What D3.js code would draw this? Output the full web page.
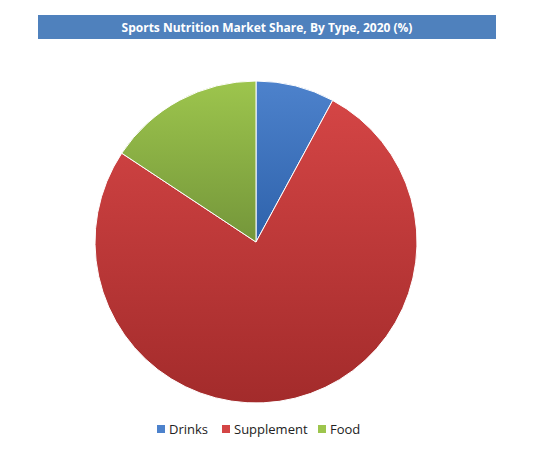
<!DOCTYPE html>
<html><head><meta charset="utf-8">
<script src="https://cdn.jsdelivr.net/npm/d3@7"></script>
<style>body{margin:0;background:#fff}</style></head>
<body><svg id="c" width="544" height="472"></svg>
<script>
const categories = ["Drinks","Supplement","Food"];
const values = [7.9, 76.4, 15.7];
const topColors = ["#4d82cc","#d44545","#9dc54d"];
const bottomColors = ["#2e62ab","#a32b2b","#74963a"];
const title = "Sports Nutrition Market Share, By Type, 2020 (%)";

const svg = d3.select("#c");
const defs = svg.append("defs");
categories.forEach((c,i)=>{
  const g = defs.append("linearGradient").attr("id","g"+i).attr("x1",0).attr("y1",0).attr("x2",0).attr("y2",1);
  g.append("stop").attr("offset","0%").attr("stop-color",topColors[i]);
  g.append("stop").attr("offset","100%").attr("stop-color",bottomColors[i]);
});
svg.append("rect").attr("x",38).attr("y",15).attr("width",458).attr("height",24).attr("fill","#4f81bd");
svg.append("text").attr("x",267).attr("y",31.5).attr("text-anchor","middle").attr("fill","#fff")
  .attr("font-family","Open Sans").attr("font-weight","bold").attr("font-size",12).text(title);

const pie = d3.pie().sort(null)(values);
const arc = d3.arc().innerRadius(0).outerRadius(161);
const g = svg.append("g").attr("transform","translate(256,242)");
g.selectAll("path").data(pie).join("path").attr("d",arc)
  .attr("fill",(d,i)=>`url(#g${i})`).attr("stroke","#fff").attr("stroke-width",1);

const lx=[157,222,318];
const lg = svg.append("g");
categories.forEach((c,i)=>{
  lg.append("rect").attr("x",lx[i]).attr("y",425).attr("width",8).attr("height",8).attr("fill",topColors[i]);
  lg.append("text").attr("x",lx[i]+12).attr("y",434).attr("font-family","Open Sans").attr("font-size",13).attr("fill","#222").text(c);
});
</script></body></html>
